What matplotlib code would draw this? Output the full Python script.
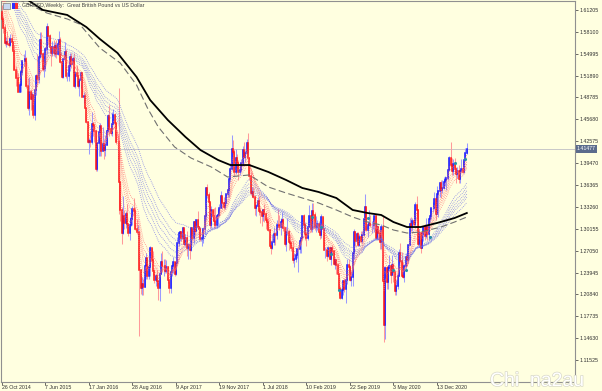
import numpy as np
import pandas as pd
import matplotlib
matplotlib.use("Agg")
import matplotlib.pyplot as plt
import matplotlib.patheffects as pe
import matplotlib.transforms as mtransforms
from matplotlib.patches import Rectangle

# GBPUSD weekly, week 0 = 26 Oct 2014
first_open = 1.6085
highs = [
    1.6185, 1.6030, 1.5915, 1.5740, 1.5825, 1.5735, 1.5785, 1.5785, 1.5655, 1.5625,
    1.5330, 1.5270, 1.5220, 1.5270, 1.5350, 1.5410, 1.5490, 1.5550, 1.5450, 1.5160,
    1.5170, 1.5000, 1.4950, 1.4900, 1.5000, 1.5215, 1.5500, 1.5520, 1.5815, 1.5815,
    1.5530, 1.5470, 1.5600, 1.5930, 1.5890, 1.5780, 1.5560, 1.5675, 1.5690, 1.5670,
    1.5690, 1.5660, 1.5820, 1.5740, 1.5390, 1.5460, 1.5660, 1.5560, 1.5240, 1.5385,
    1.5510, 1.5510, 1.5460, 1.5510, 1.5240, 1.5340, 1.5240, 1.5160, 1.5240, 1.5240,
    1.4960, 1.4940, 1.4750, 1.4540, 1.4305, 1.4400, 1.4670, 1.4530, 1.4460, 1.4420,
    1.4240, 1.4410, 1.4515, 1.4460, 1.4460, 1.4285, 1.4345, 1.4440, 1.4640, 1.4770,
    1.4470, 1.4670, 1.4720, 1.4660, 1.4520, 1.4350, 1.5020, 1.3700, 1.3330, 1.3480,
    1.3285, 1.3270, 1.3370, 1.3080, 1.3180, 1.3245, 1.3340, 1.3445, 1.3330, 1.3150,
    1.3070, 1.2960, 1.2440, 1.2330, 1.2305, 1.2515, 1.2675, 1.2600, 1.2520, 1.2775,
    1.2730, 1.2705, 1.2450, 1.2375, 1.2430, 1.2295, 1.2415, 1.2675, 1.2705, 1.2580,
    1.2580, 1.2570, 1.2490, 1.2275, 1.2430, 1.2510, 1.2615, 1.2550, 1.2540, 1.2905,
    1.2960, 1.2990, 1.2990, 1.3045, 1.3010, 1.2945, 1.2980, 1.2815, 1.2785, 1.3030,
    1.3030, 1.3125, 1.3125, 1.3160, 1.3265, 1.3050, 1.3035, 1.2920, 1.3020, 1.3225,
    1.3615, 1.3655, 1.3540, 1.3400, 1.3340, 1.3255, 1.3310, 1.3320, 1.3225, 1.3290,
    1.3365, 1.3550, 1.3485, 1.3460, 1.3405, 1.3515, 1.3615, 1.3740, 1.3945, 1.4345,
    1.4280, 1.4145, 1.4145, 1.4070, 1.3990, 1.3925, 1.4005, 1.4190, 1.4245, 1.4130,
    1.4285, 1.4375, 1.4040, 1.3815, 1.3615, 1.3615, 1.3475, 1.3365, 1.3470, 1.3475,
    1.3320, 1.3290, 1.3285, 1.3365, 1.3255, 1.3185, 1.3170, 1.3010, 1.2765, 1.2945,
    1.3040, 1.2950, 1.3145, 1.3300, 1.3215, 1.3175, 1.3260, 1.3175, 1.3045, 1.3045,
    1.3175, 1.3000, 1.2930, 1.2840, 1.2840, 1.2670, 1.2720, 1.2735, 1.2765, 1.2865,
    1.2935, 1.3215, 1.3220, 1.3110, 1.2985, 1.3110, 1.3350, 1.3210, 1.3380, 1.3385,
    1.3260, 1.3195, 1.3145, 1.3125, 1.3045, 1.3220, 1.3175, 1.3030, 1.2750, 1.2725,
    1.2765, 1.2745, 1.2755, 1.2785, 1.2695, 1.2605, 1.2580, 1.2520, 1.2380, 1.2210,
    1.2160, 1.2275, 1.2310, 1.2385, 1.2580, 1.2580, 1.2500, 1.2410, 1.2705, 1.3010,
    1.2990, 1.2975, 1.2975, 1.2935, 1.2985, 1.2980, 1.3155, 1.3515, 1.3340, 1.3120,
    1.3285, 1.3215, 1.3120, 1.3175, 1.3210, 1.3210, 1.3070, 1.3055, 1.3010, 1.3085,
    1.3200, 1.2485, 1.2485, 1.2490, 1.2485, 1.2645, 1.2505, 1.2645, 1.2515, 1.2400,
    1.2295, 1.2385, 1.2730, 1.2815, 1.2685, 1.2545, 1.2515, 1.2670, 1.2670, 1.2800,
    1.3170, 1.3185, 1.3165, 1.3265, 1.3395, 1.3480, 1.3295, 1.3005, 1.2975, 1.2955,
    1.3060, 1.3080, 1.3175, 1.3070, 1.3180, 1.3315, 1.3310, 1.3395, 1.3540, 1.3480,
    1.3625, 1.3565, 1.3680, 1.3705, 1.3710, 1.3745, 1.3760, 1.3740, 1.3865, 1.4050,
    1.4240, 1.4015, 1.4000, 1.4015, 1.3885, 1.3890, 1.3920, 1.3840, 1.4010, 1.3975,
    1.4005, 1.4165, 1.4235,
]
lows = [
    1.5945, 1.5790, 1.5630, 1.5590, 1.5620, 1.5590, 1.5615, 1.5565, 1.5485, 1.5270,
    1.5035, 1.5035, 1.4950, 1.4950, 1.4960, 1.5200, 1.5330, 1.5380, 1.5020, 1.4700,
    1.4635, 1.4700, 1.4720, 1.4585, 1.4565, 1.4920, 1.5080, 1.5090, 1.5440, 1.5450,
    1.5255, 1.5170, 1.5260, 1.5500, 1.5640, 1.5570, 1.5330, 1.5465, 1.5470, 1.5450,
    1.5440, 1.5485, 1.5600, 1.5370, 1.5160, 1.5160, 1.5410, 1.5160, 1.5110, 1.5110,
    1.5260, 1.5300, 1.5230, 1.5030, 1.5020, 1.5150, 1.5020, 1.4895, 1.5010, 1.4880,
    1.4805, 1.4730, 1.4520, 1.4235, 1.4080, 1.4170, 1.4220, 1.4330, 1.4240, 1.3835,
    1.3835, 1.4050, 1.4050, 1.4055, 1.4130, 1.4005, 1.4050, 1.4200, 1.4385, 1.4330,
    1.4340, 1.4330, 1.4570, 1.4350, 1.4225, 1.4010, 1.3230, 1.3120, 1.2800, 1.2940,
    1.3010, 1.3030, 1.3055, 1.2910, 1.2850, 1.3060, 1.3075, 1.3220, 1.3000, 1.2945,
    1.2890, 1.1490, 1.2090, 1.2080, 1.2080, 1.2200, 1.2300, 1.2300, 1.2300, 1.2350,
    1.2500, 1.2360, 1.2250, 1.2200, 1.2200, 1.2000, 1.1985, 1.2370, 1.2400, 1.2345,
    1.2385, 1.2385, 1.2250, 1.2110, 1.2110, 1.2350, 1.2390, 1.2350, 1.2365, 1.2510,
    1.2775, 1.2840, 1.2845, 1.2880, 1.2775, 1.2770, 1.2630, 1.2590, 1.2590, 1.2700,
    1.2850, 1.2810, 1.2930, 1.2980, 1.3010, 1.2955, 1.2840, 1.2775, 1.2810, 1.2945,
    1.3135, 1.3450, 1.3340, 1.3025, 1.3030, 1.3125, 1.3030, 1.3030, 1.3030, 1.3065,
    1.3210, 1.3305, 1.3300, 1.3300, 1.3300, 1.3375, 1.3460, 1.3460, 1.3685, 1.3850,
    1.4080, 1.3765, 1.3790, 1.3860, 1.3710, 1.3780, 1.3825, 1.3910, 1.4025, 1.3965,
    1.4060, 1.4005, 1.3710, 1.3490, 1.3460, 1.3445, 1.3205, 1.3200, 1.3345, 1.3205,
    1.3100, 1.3050, 1.3120, 1.3105, 1.3010, 1.3055, 1.2990, 1.2740, 1.2660, 1.2730,
    1.2790, 1.2785, 1.2865, 1.3055, 1.2995, 1.2925, 1.3025, 1.2985, 1.2770, 1.2695,
    1.2930, 1.2720, 1.2795, 1.2700, 1.2530, 1.2475, 1.2550, 1.2605, 1.2395, 1.2670,
    1.2670, 1.2865, 1.3045, 1.2850, 1.2775, 1.2855, 1.3035, 1.2965, 1.2965, 1.3005,
    1.3000, 1.2975, 1.3000, 1.2960, 1.2865, 1.2890, 1.2965, 1.2710, 1.2605, 1.2560,
    1.2620, 1.2580, 1.2505, 1.2650, 1.2500, 1.2440, 1.2380, 1.2365, 1.2080, 1.2020,
    1.2015, 1.2070, 1.2115, 1.1960, 1.2235, 1.2380, 1.2270, 1.2200, 1.2200, 1.2580,
    1.2770, 1.2820, 1.2770, 1.2765, 1.2820, 1.2820, 1.2915, 1.3105, 1.2990, 1.2905,
    1.3060, 1.3045, 1.2960, 1.3010, 1.2970, 1.2870, 1.2850, 1.2850, 1.2725, 1.2725,
    1.2260, 1.1410, 1.1450, 1.2165, 1.2165, 1.2410, 1.2250, 1.2355, 1.2265, 1.2075,
    1.2075, 1.2165, 1.2340, 1.2530, 1.2335, 1.2320, 1.2255, 1.2445, 1.2480, 1.2530,
    1.2785, 1.2980, 1.2980, 1.3050, 1.3060, 1.3175, 1.2765, 1.2760, 1.2675, 1.2780,
    1.2845, 1.2860, 1.2880, 1.2855, 1.2855, 1.3105, 1.3150, 1.3260, 1.3290, 1.3135,
    1.3225, 1.3185, 1.3470, 1.3450, 1.3520, 1.3575, 1.3625, 1.3565, 1.3710, 1.3845,
    1.3885, 1.3780, 1.3780, 1.3830, 1.3670, 1.3740, 1.3670, 1.3670, 1.3825, 1.3810,
    1.3805, 1.4005, 1.4070,
]
closes = [
    1.5995, 1.5865, 1.5645, 1.5660, 1.5640, 1.5625, 1.5715, 1.5665, 1.5545, 1.5275,
    1.5160, 1.5155, 1.4955, 1.5050, 1.5240, 1.5390, 1.5390, 1.5430, 1.5040, 1.4730,
    1.4955, 1.4860, 1.4915, 1.4625, 1.4985, 1.5180, 1.5140, 1.5450, 1.5700, 1.5495,
    1.5285, 1.5300, 1.5565, 1.5880, 1.5745, 1.5595, 1.5510, 1.5600, 1.5510, 1.5610,
    1.5500, 1.5640, 1.5700, 1.5380, 1.5170, 1.5430, 1.5530, 1.5185, 1.5185, 1.5330,
    1.5450, 1.5350, 1.5425, 1.5040, 1.5225, 1.5190, 1.5040, 1.5120, 1.5225, 1.4890,
    1.4905, 1.4735, 1.4535, 1.4250, 1.4265, 1.4245, 1.4500, 1.4495, 1.4400, 1.3860,
    1.4230, 1.4390, 1.4480, 1.4115, 1.4225, 1.4130, 1.4200, 1.4405, 1.4615, 1.4435,
    1.4375, 1.4505, 1.4630, 1.4520, 1.4250, 1.4240, 1.3680, 1.3275, 1.2950, 1.3195,
    1.3095, 1.3225, 1.3085, 1.2950, 1.3075, 1.3160, 1.3300, 1.3265, 1.3005, 1.2970,
    1.2975, 1.2430, 1.2180, 1.2225, 1.2190, 1.2480, 1.2595, 1.2350, 1.2470, 1.2740,
    1.2570, 1.2410, 1.2290, 1.2340, 1.2280, 1.2180, 1.2370, 1.2550, 1.2480, 1.2480,
    1.2410, 1.2470, 1.2290, 1.2170, 1.2400, 1.2480, 1.2550, 1.2370, 1.2535, 1.2810,
    1.2950, 1.2970, 1.2880, 1.3030, 1.2800, 1.2885, 1.2745, 1.2780, 1.2720, 1.3020,
    1.2880, 1.3105, 1.2990, 1.3135, 1.3035, 1.3010, 1.2875, 1.2880, 1.3010, 1.3200,
    1.3590, 1.3495, 1.3400, 1.3065, 1.3285, 1.3190, 1.3130, 1.3075, 1.3190, 1.3210,
    1.3315, 1.3475, 1.3375, 1.3320, 1.3385, 1.3510, 1.3565, 1.3725, 1.3865, 1.4150,
    1.4105, 1.3825, 1.4025, 1.3950, 1.3815, 1.3850, 1.3945, 1.4140, 1.4030, 1.4085,
    1.4235, 1.4020, 1.3770, 1.3530, 1.3540, 1.3460, 1.3305, 1.3340, 1.3415, 1.3270,
    1.3255, 1.3200, 1.3280, 1.3225, 1.3135, 1.3115, 1.2995, 1.2765, 1.2740, 1.2830,
    1.2935, 1.2920, 1.3075, 1.3070, 1.3035, 1.3115, 1.3145, 1.3030, 1.2795, 1.2965,
    1.2975, 1.2830, 1.2810, 1.2745, 1.2575, 1.2585, 1.2645, 1.2725, 1.2730, 1.2840,
    1.2885, 1.3195, 1.3075, 1.2940, 1.2885, 1.3045, 1.3190, 1.3005, 1.3265, 1.3205,
    1.3035, 1.3035, 1.3085, 1.2970, 1.2920, 1.3185, 1.3005, 1.2715, 1.2715, 1.2625,
    1.2740, 1.2590, 1.2740, 1.2695, 1.2520, 1.2575, 1.2495, 1.2375, 1.2165, 1.2030,
    1.2145, 1.2275, 1.2165, 1.2285, 1.2500, 1.2475, 1.2290, 1.2330, 1.2665, 1.2965,
    1.2835, 1.2940, 1.2780, 1.2900, 1.2835, 1.2925, 1.3150, 1.3325, 1.3000, 1.3075,
    1.3080, 1.3065, 1.3070, 1.3075, 1.3200, 1.2890, 1.3045, 1.2960, 1.2825, 1.3045,
    1.2280, 1.1650, 1.2465, 1.2265, 1.2455, 1.2490, 1.2365, 1.2495, 1.2405, 1.2130,
    1.2200, 1.2345, 1.2665, 1.2560, 1.2350, 1.2335, 1.2480, 1.2615, 1.2570, 1.2790,
    1.3085, 1.3055, 1.3120, 1.3085, 1.3355, 1.3275, 1.2795, 1.2950, 1.2745, 1.2940,
    1.3045, 1.2915, 1.3040, 1.2945, 1.3150, 1.3190, 1.3305, 1.3315, 1.3440, 1.3225,
    1.3515, 1.3555, 1.3670, 1.3565, 1.3590, 1.3685, 1.3705, 1.3735, 1.3845, 1.4015,
    1.3925, 1.3835, 1.3935, 1.3865, 1.3790, 1.3830, 1.3715, 1.3835, 1.3870, 1.3815,
    1.3995, 1.4095, 1.4148,
]

# weekly closes before the visible window (Jan - Oct 2014), used to warm up the EMAs
warmup_closes = [
    1.6440, 1.6480, 1.6440, 1.6560, 1.6435, 1.6330, 1.6405, 1.6670, 1.6660, 1.6740,
    1.6625, 1.6490, 1.6615, 1.6605, 1.6745, 1.6785, 1.6805, 1.6880, 1.6870, 1.6820,
    1.6875, 1.6745, 1.6800, 1.6820, 1.6980, 1.7010, 1.7010, 1.7160, 1.7125, 1.7090,
    1.7000, 1.6985, 1.6860, 1.6795, 1.6690, 1.6600, 1.6590, 1.6565, 1.6310, 1.6245,
    1.6315, 1.6215, 1.6085,
]
short_periods = [3, 5, 8, 10, 12, 15]
long_periods = [30, 35, 40, 45, 50, 60]

# long moving averages (week, price)
black_weeks = [14, 19, 30, 48, 62, 72, 85, 99, 109, 122, 135, 146, 159, 168, 182,
               196, 209, 221, 233, 246, 258, 269, 279, 288, 298, 308, 320, 333, 342]
black_vals = [1.6330, 1.6263, 1.6121, 1.6050, 1.5879, 1.5709, 1.5510, 1.5170, 1.4843,
              1.4559, 1.4318, 1.4133, 1.3991, 1.3920, 1.3920, 1.3821, 1.3708, 1.3594,
              1.3537, 1.3452, 1.3282, 1.3239, 1.3211, 1.3111, 1.3040, 1.3040, 1.3097,
              1.3168, 1.3239]
dash_weeks = [8, 13, 33, 48, 57, 72, 87, 99, 107, 115, 127, 139, 154, 166, 182,
              196, 209, 221, 233, 246, 258, 269, 279, 288, 298, 308, 323, 333, 342]
dash_vals = [1.6330, 1.6263, 1.6078, 1.5993, 1.5922, 1.5581, 1.5368, 1.5056, 1.4730,
             1.4460, 1.4176, 1.4020, 1.3892, 1.3750, 1.3779, 1.3608, 1.3523, 1.3452,
             1.3381, 1.3282, 1.3182, 1.3111, 1.3069, 1.2998, 1.2955, 1.2969, 1.3040,
             1.3111, 1.3182]

signal_weeks = [228, 235, 242, 248, 269, 288, 297, 315, 333, 341]
signal_prices = [1.3182, 1.3040, 1.2657, 1.2146, 1.3168, 1.2430, 1.2430, 1.2900, 1.3949, 1.4006]

price_ticks = [1.11525, 1.14630, 1.17735, 1.20840, 1.23945, 1.27050, 1.30155, 1.33260,
               1.36365, 1.39470, 1.42575, 1.45680, 1.48785, 1.51890, 1.54995, 1.58100, 1.61205]
date_weeks = [0, 32, 64, 96, 128, 160, 192, 224, 256, 288, 320]
date_labels = ["26 Oct 2014", "7 Jun 2015", "17 Jan 2016", "28 Aug 2016", "9 Apr 2017",
               "19 Nov 2017", "1 Jul 2018", "10 Feb 2019", "22 Sep 2019", "3 May 2020",
               "13 Dec 2020"]
bid = 1.41477

plt.rcParams['font.family'] = ['Liberation Sans', 'DejaVu Sans']
FS = 3.8

W, H = 602, 391
BG = "#ffffe0"
fig = plt.figure(figsize=(W / 100, H / 100), dpi=100, facecolor=BG)
ax = fig.add_axes([1 / W, (H - 382) / H, 574 / W, 381 / H], facecolor=BG)

wk = np.arange(len(closes))
c = np.array(closes)
o = np.array([first_open] + closes[:-1])
hi = np.maximum(np.array(highs), np.maximum(o, c))
lo = np.minimum(np.array(lows), np.minimum(o, c))
up = c >= o

ax.axhline(bid, color="#c8c8c8", lw=0.7, zorder=1)

# candles: light wicks, solid bodies
ax.vlines(wk[up], lo[up], hi[up], color="#9a9aff", lw=0.75, zorder=2)
ax.vlines(wk[~up], lo[~up], hi[~up], color="#ff9a9a", lw=0.75, zorder=2)
ax.vlines(wk[up], o[up], c[up], color="#1010ff", lw=1.1, zorder=3, capstyle="projecting")
ax.vlines(wk[~up], c[~up], o[~up], color="#ff1010", lw=1.1, zorder=3, capstyle="projecting")

# guppy style ribbons
full = pd.Series(warmup_closes + closes)
n0 = len(warmup_closes)
for p in short_periods:
    ema = full.ewm(span=p, adjust=False).mean().values[n0:]
    ax.plot(wk, ema, color="#ff6a6a", lw=0.6, ls=(0, (1, 1.4)), alpha=0.8, zorder=4)
for p in long_periods:
    ema = full.ewm(span=p, adjust=False).mean().values[n0:]
    ax.plot(wk, ema, color="#6a6ae6", lw=0.6, ls=(0, (1, 1.4)), alpha=0.8, zorder=4)

ax.plot(dash_weeks, dash_vals, color="#707070", lw=0.8, ls=(0, (6, 3)), zorder=5)
ax.plot(black_weeks, black_vals, color="black", lw=1.3, zorder=5)
ax.scatter(signal_weeks, signal_prices, s=5, color="#2a8fa8", zorder=6, linewidths=0)

ax.set_xlim(-0.74, 421.6)
ax.set_ylim(1.08403, 1.62482)

ax.yaxis.tick_right()
ax.set_yticks(price_ticks)
ax.set_yticklabels(["%.5f" % v for v in price_ticks])
ax.set_xticks(date_weeks)
ax.set_xticklabels(date_labels)
for t in ax.get_xticklabels():
    t.set_ha("left")
ax.tick_params(axis="y", length=2, width=0.5, pad=1, labelsize=FS, colors="#303030")
ax.tick_params(axis="x", length=2, width=0.5, pad=0.5, labelsize=FS, colors="#303030")
for s in ax.spines.values():
    s.set_color("#909090")
    s.set_linewidth(0.8)

trans = mtransforms.blended_transform_factory(ax.transAxes, ax.transData)
ax.text(1.003, bid, "%.5f" % bid, transform=trans, ha="left", va="center",
        fontsize=FS, color="white",
        bbox=dict(boxstyle="square,pad=0.2", fc="#5b6b8c", ec="none"))

fig.text(22 / W, 1 - 6 / H, "GBPUSD,Weekly:  Great British Pound vs US Dollar",
         fontsize=FS, color="#404040", va="center")
fig.add_artist(Rectangle((3 / W, 1 - 9 / H), 7 / W, 6 / H, transform=fig.transFigure,
                         fc="#c8d8f0", ec="#808080", lw=0.5))
fig.add_artist(Rectangle((12 / W, 1 - 9 / H), 3 / W, 6 / H, transform=fig.transFigure,
                         fc="#3030ff", ec="none"))
fig.add_artist(Rectangle((15 / W, 1 - 9 / H), 3 / W, 6 / H, transform=fig.transFigure,
                         fc="#ff3030", ec="none"))

fig.text(490 / W, 5 / H, "Chi  na2au", fontsize=14, color="white",
         path_effects=[pe.withStroke(linewidth=1, foreground="#d8d8c8")])

fig.savefig("out.png", dpi=100, facecolor=BG)
